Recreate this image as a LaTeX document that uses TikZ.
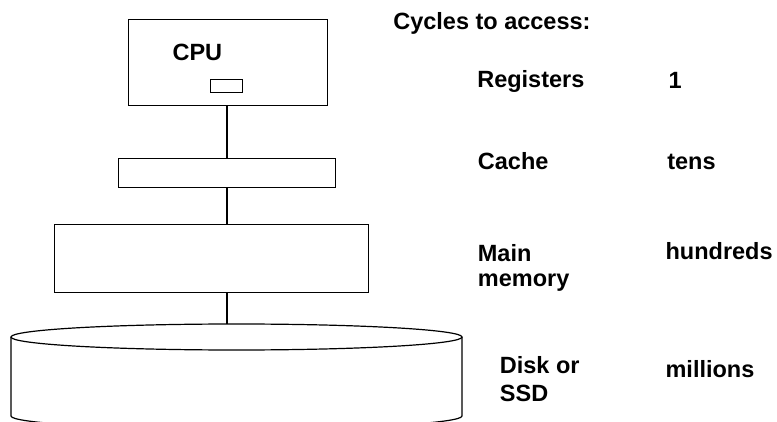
\documentclass[tikz,border=0pt]{standalone}
\usepackage{fontspec}
\setmainfont{Liberation Sans}
\begin{document}
\begin{tikzpicture}[x=1pt,y=-1pt, line width=1.2pt,
  box/.style={draw, line width=1.2pt, inner sep=0pt, anchor=north west},
  lbl/.style={anchor=base west, inner sep=0pt, align=left,
    font=\fontsize{23.5}{26}\selectfont\bfseries}]
\useasboundingbox (0,0) rectangle (777,422);
\clip (0,0) rectangle (777,422);
% boxes
\node[box, minimum width=199pt, minimum height=86pt] (cpu) at (128,19) {};
\node[box, minimum width=32pt, minimum height=13pt] (reg) at (210,79) {};
\node[box, minimum width=217pt, minimum height=29pt] (cache) at (118,158) {};
\node[box, minimum width=314pt, minimum height=68pt] (mem) at (54,224) {};
% disk
\coordinate (disktop) at (227,324);
\draw (11,337) -- (11,416) arc[start angle=180, end angle=360, x radius=225.5pt, y radius=13pt] -- (462,337);
\draw[fill=white] (236.5,337) ellipse[x radius=225.5pt, y radius=13pt];
% connectors
\draw (cpu.south -| 227,0) -- (cache.north -| 227,0);
\draw (cache.south -| 227,0) -- (mem.north -| 227,0);
\draw (mem.south -| 227,0) -- (disktop);
% labels
\node[lbl] (tcpu) at (172,61) {CPU};
\node[lbl] (thead) at (392.7,30) {Cycles to access:};
\node[lbl] (treg) at (476.7,87.5) {Registers};
\node[lbl] (tone) at (668,89) {1};
\node[lbl] (tcache) at (477.3,170) {Cache};
\node[lbl] (ttens) at (666.7,170) {tens};
\node[lbl, font=\fontsize{23.5}{25}\selectfont\bfseries] (tmem) at (477.3,286.7) {Main\\memory};
\node[lbl] (thund) at (665,260) {hundreds};
\node[lbl, font=\fontsize{23.5}{27.7}\selectfont\bfseries] (tdisk) at (499.3,401.7) {Disk or\\SSD};
\node[lbl] (tmill) at (665,377.3) {millions};
\end{tikzpicture}
\end{document}
